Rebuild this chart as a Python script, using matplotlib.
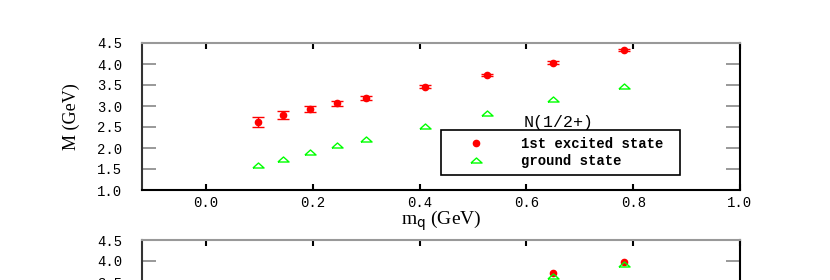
import numpy as np
import matplotlib
matplotlib.use('Agg')
from matplotlib import pyplot as plt

# quark mass (GeV) and masses (GeV), upper panel
mq = [0.097, 0.145, 0.195, 0.246, 0.300, 0.410, 0.526, 0.650, 0.782]
m_excited = [2.61, 2.79, 2.93, 3.07, 3.20, 3.46, 3.74, 4.03, 4.33]
m_excited_err = [0.12, 0.10, 0.07, 0.06, 0.05, 0.03, 0.03, 0.03, 0.03]
m_ground = [1.60, 1.75, 1.91, 2.07, 2.21, 2.53, 2.84, 3.16, 3.48]

# lower panel (only the top of it is in the picture)
mq_low = [0.650, 0.782]
m_excited_low = [3.71, 3.98]
m_ground_low = [3.65, 3.93]

xticks = [0.0, 0.2, 0.4, 0.6, 0.8, 1.0]
yticks = [1.0, 1.5, 2.0, 2.5, 3.0, 3.5, 4.0, 4.5]
yticks_low = [3.5, 4.0, 4.5]  # the rest of the lower panel is off the picture

mono = 'Liberation Mono'
serif = 'Liberation Serif'
tri = [(-1, -0.45), (1, -0.45), (0, 0.45), (-1, -0.45)]  # flat open triangle
red = '#ff0000'
green = '#00ff00'


def style_axes(ax, yt, xlabels=True):
    ax.set_xlim(-0.12, 1.0)
    ax.set_ylim(1.0, 4.5)
    ax.set_xticks(xticks)
    ax.set_yticks(yt)
    if xlabels:
        ax.set_xticklabels(['%.1f' % t for t in xticks], family=mono, fontsize=10)
    else:
        ax.set_xticklabels([])
    ax.set_yticklabels(['%.1f' % t for t in yt], family=mono, fontsize=10)
    ax.tick_params(axis='x', direction='in', length=4, width=1.5, color='black',
                   top=True, pad=4)
    ax.tick_params(axis='y', direction='in', length=10, width=1.2, color='#888888',
                   right=True, pad=14)
    for side, col in [('left', '#333333'), ('bottom', 'black'),
                      ('top', '#999999'), ('right', 'black')]:
        ax.spines[side].set_color(col)
        ax.spines[side].set_linewidth(1.5)


fig = plt.figure(figsize=(8.3, 2.8), dpi=100)
ax = fig.add_axes([142/830, 1 - 190/280, 598/830, 147/280])
ax2 = fig.add_axes([142/830, 1 - 240/280 - 147/280, 598/830, 147/280])

style_axes(ax, yticks)
style_axes(ax2, yticks_low, xlabels=False)  # its x labels fall below the picture

ax.errorbar(mq, m_excited, yerr=m_excited_err, fmt='none', ecolor=red,
            elinewidth=1, capsize=4, capthick=1)
ax.plot(mq, m_excited, 'o', color=red, markersize=4.5, label='1st excited state')
ax.plot(mq, m_ground, linestyle='none', marker=tri, markersize=8,
        markerfacecolor='none', markeredgecolor=green, markeredgewidth=1,
        label='ground state')

ax2.plot(mq_low, m_excited_low, 'o', color=red, markersize=4.5)
ax2.plot(mq_low, m_ground_low, linestyle='none', marker=tri, markersize=8,
         markerfacecolor='none', markeredgecolor=green, markeredgewidth=1)

ax.set_xlabel('m$_{\\rm q}$ (GeV)', family=serif, fontsize=14, labelpad=-1)
ax.set_ylabel('M (GeV)', family=serif, fontsize=13)
ax.yaxis.set_label_coords(-0.104, 0.5)

leg = ax.legend(loc='lower left', bbox_to_anchor=(0.5, 0.102, 0.4, 0.295),
                mode='expand', prop={'family': mono, 'size': 10, 'weight': 'bold'},
                frameon=True, fancybox=False, edgecolor='black', framealpha=1,
                borderpad=0.5, handlelength=4.1, handletextpad=1.15,
                labelspacing=0.25, borderaxespad=0)
leg.get_frame().set_linewidth(1.2)
ax.text(0.696, 0.405, 'N(1/2+)', transform=ax.transAxes, family=mono,
        fontsize=12, ha='center', va='bottom')

plt.savefig('out.png', dpi=100)
